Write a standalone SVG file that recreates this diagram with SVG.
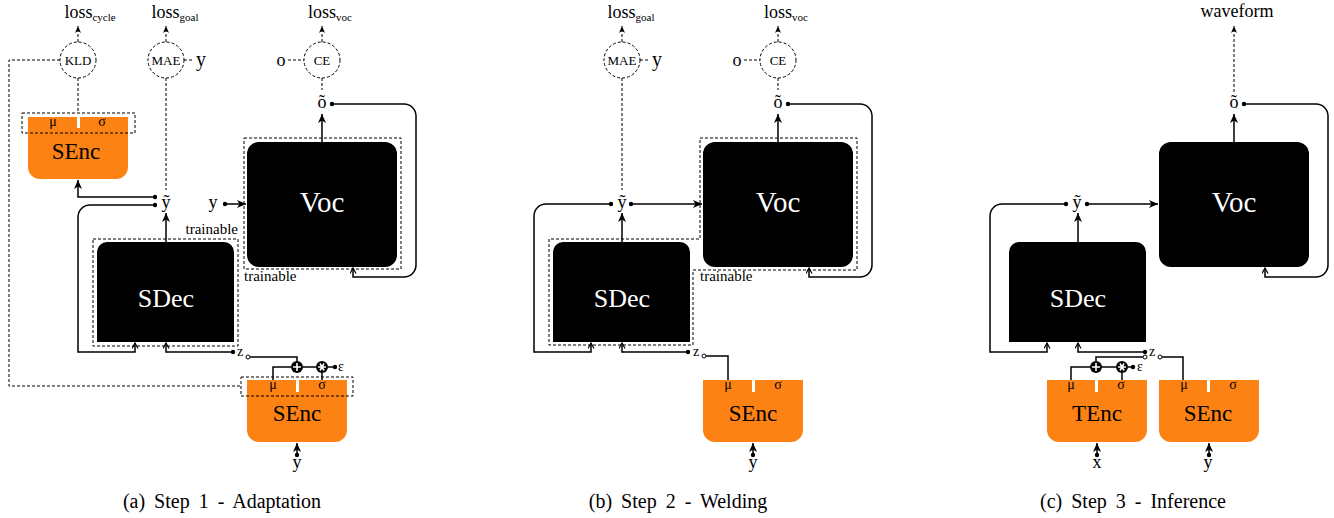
<svg xmlns="http://www.w3.org/2000/svg" width="1334" height="518" viewBox="0 0 1334 518">
<defs>
<style>
.t{font-family:"Liberation Serif","Times New Roman",serif;fill:#000}
.c{text-anchor:middle}
.w{fill:#fff}
.ln{fill:none;stroke:#000;stroke-width:1.5}
.dl{fill:none;stroke:#000;stroke-width:1;stroke-dasharray:3 2}
.or{fill:#fd8214}
.bk{fill:#000}
.dot{fill:#000}
.od{fill:#fff;stroke:#000;stroke-width:1}
.wl{stroke:#fff;stroke-width:1.6;fill:none}
.cap{font-size:20px;word-spacing:4px}
</style>
<marker id="ah" markerUnits="userSpaceOnUse" markerWidth="10" markerHeight="8" refX="9" refY="4" orient="auto"><path d="M0,0 L9,4 L0,8 L2.5,4 Z" fill="#000"/></marker>
<marker id="ao" markerUnits="userSpaceOnUse" markerWidth="8" markerHeight="8" refX="6" refY="3.5" orient="auto"><path d="M0.5,0.5 L6,3.5 L0.5,6.5" fill="none" stroke="#000" stroke-width="1.2"/></marker>
<marker id="ad" markerUnits="userSpaceOnUse" markerWidth="8" markerHeight="7" refX="7" refY="3" orient="auto"><path d="M0,0 L7,3 L0,6 L2,3 Z" fill="#000"/></marker>
<path id="orshape" d="M0,0 H100 V50 A12,12 0 0 1 88,62 H12 A12,12 0 0 1 0,50 Z"/>
<path id="sdec" d="M97,342 V252 A10,10 0 0 1 107,242 H224 A10,10 0 0 1 234,252 V342 Z"/>
</defs>
<rect width="1334" height="518" fill="#fff"/>

<!-- ===== Panel (a) ===== -->
<g id="panel-a">
 <g id="a-connectors">
  <path class="dl" d="M78,42 V26" marker-end="url(#ad)"/>
  <path class="dl" d="M166,42 V26" marker-end="url(#ad)"/>
  <path class="dl" d="M322,42 V26" marker-end="url(#ad)"/>
  <path class="dl" d="M184,60 H193"/>
  <path class="dl" d="M288,60 H304"/>
  <path class="dl" d="M322,78 V90"/>
  <path class="dl" d="M166,78 V190"/>
  <path class="dl" d="M78,78 V113"/>
  <path class="dl" d="M60,60 H9 V386 H241"/>
  <path class="ln" d="M322,142 V114" marker-end="url(#ah)"/>
  <path class="ln" d="M332,104 H404 A12,12 0 0 1 416,116 V265 A12,12 0 0 1 404,277 H353 V268" marker-end="url(#ao)"/>
  <path class="ln" d="M225,204 H246" marker-end="url(#ah)"/>
  <path class="ln" d="M155,197 H78 V180" marker-end="url(#ah)"/>
  <path class="ln" d="M155,205 H90 A12,12 0 0 0 78,217 V352 H135 V343" marker-end="url(#ao)"/>
  <path class="ln" d="M166,242 V213" marker-end="url(#ah)"/>
  <path class="ln" d="M233,352 H166 V343" marker-end="url(#ao)"/>
  <path class="ln" d="M250,357 H297 V361"/>
  <path class="ln" d="M291,367 H273 V381"/>
  <path class="ln" d="M303,367 H316"/>
  <path class="ln" d="M328,367 H335"/>
  <path class="ln" d="M322,373 V381"/>
  <path class="ln" d="M297,455 V443" marker-end="url(#ah)"/>
  <circle class="dot" cx="225" cy="204" r="2.2"/>
  <circle class="dot" cx="155" cy="197" r="2.2"/>
  <circle class="dot" cx="155" cy="205" r="2.2"/>
  <circle class="dot" cx="332" cy="104" r="2.2"/>
  <circle class="dot" cx="233" cy="352" r="2.2"/>
  <circle class="dot" cx="335" cy="367" r="2.2"/>
  <circle class="dot" cx="297" cy="455" r="2.2"/>
  <circle class="od" cx="248" cy="357" r="2"/>
 </g>
 <g id="a-loss-cycle"><text class="t c" x="90" y="18" font-size="18">loss<tspan font-size="11" dy="3">cycle</tspan></text></g>
 <g id="a-loss-goal"><text class="t c" x="175" y="18" font-size="18">loss<tspan font-size="11" dy="3">goal</tspan></text></g>
 <g id="a-loss-voc"><text class="t c" x="330" y="18" font-size="18">loss<tspan font-size="11" dy="3">voc</tspan></text></g>
 <g id="a-kld"><circle class="dl" cx="78" cy="60" r="18"/><text class="t c" x="78" y="65" font-size="13">KLD</text></g>
 <g id="a-mae"><circle class="dl" cx="166" cy="60" r="18"/><text class="t c" x="166" y="65" font-size="13">MAE</text><text class="t c" x="201" y="66" font-size="20">y</text></g>
 <g id="a-ce"><circle class="dl" cx="322" cy="60" r="18"/><text class="t c" x="322" y="65" font-size="13">CE</text><text class="t c" x="281" y="66" font-size="18">o</text></g>
 <g id="a-otilde"><text class="t c" x="322" y="108" font-size="18">õ</text></g>
 <g id="a-senc-top">
  <use href="#orshape" class="or" x="28" y="117"/>
  <rect class="w" x="77" y="117" width="3" height="11"/>
  <rect class="dl" x="22" y="113" width="113" height="20"/>
  <text class="t c" x="53" y="126" font-size="14">μ</text>
  <text class="t c" x="102" y="126" font-size="14">σ</text>
  <text class="t c" x="76" y="159" font-size="23">SEnc</text>
 </g>
 <g id="a-ytilde"><text class="t c" x="166" y="208" font-size="18">ỹ</text></g>
 <g id="a-y-voc"><text class="t c" x="213" y="208" font-size="18">y</text></g>
 <g id="a-voc">
  <rect class="dl" x="244" y="138" width="157" height="131"/>
  <rect class="bk" x="247" y="142" width="150" height="125" rx="12"/>
  <text class="t c w" x="322" y="212" font-size="29">Voc</text>
  <text class="t" x="244" y="281" font-size="15">trainable</text>
 </g>
 <g id="a-sdec">
  <rect class="dl" x="93" y="239" width="145" height="107"/>
  <use href="#sdec" class="bk"/>
  <text class="t c w" x="166" y="307" font-size="26">SDec</text>
  <text class="t" x="238" y="234" font-size="15" text-anchor="end">trainable</text>
 </g>
 <g id="a-z"><text class="t c" x="240" y="356" font-size="14">z</text></g>
 <g id="a-ops">
  <circle cx="297" cy="367" r="6" fill="#000"/><path class="wl" d="M293,367 H301 M297,363 V371"/>
  <circle cx="322" cy="367" r="6" fill="#000"/><path class="wl" d="M318,367 H326 M320,363.5 L324,370.5 M324,363.5 L320,370.5"/>
  <text class="t" x="338" y="371" font-size="14">ε</text>
 </g>
 <g id="a-senc-bottom">
  <use href="#orshape" class="or" x="247" y="380"/>
  <rect class="w" x="296" y="380" width="3" height="12"/>
  <rect class="dl" x="241" y="377" width="112" height="19"/>
  <text class="t c" x="273" y="389" font-size="14">μ</text>
  <text class="t c" x="322" y="389" font-size="14">σ</text>
  <text class="t c" x="297" y="421" font-size="23">SEnc</text>
  <text class="t c" x="297" y="468" font-size="18">y</text>
 </g>
 <g id="a-caption"><text class="t c cap" x="222" y="508">(a) Step 1 - Adaptation</text></g>
</g>

<!-- ===== Panel (b) ===== -->
<g id="panel-b" transform="translate(456,0)">
 <g id="b-connectors">
  <path class="dl" d="M166,42 V26" marker-end="url(#ad)"/>
  <path class="dl" d="M322,42 V26" marker-end="url(#ad)"/>
  <path class="dl" d="M184,60 H193"/>
  <path class="dl" d="M288,60 H304"/>
  <path class="dl" d="M322,78 V90"/>
  <path class="dl" d="M166,78 V190"/>
  <path class="ln" d="M322,142 V114" marker-end="url(#ah)"/>
  <path class="ln" d="M332,104 H404 A12,12 0 0 1 416,116 V265 A12,12 0 0 1 404,277 H353 V268" marker-end="url(#ao)"/>
  <path class="ln" d="M175,204 H246" marker-end="url(#ah)"/>
  <path class="ln" d="M155,204 H90 A12,12 0 0 0 78,216 V352 H135 V343" marker-end="url(#ao)"/>
  <path class="ln" d="M166,242 V213" marker-end="url(#ah)"/>
  <path class="ln" d="M232,352 H166 V343" marker-end="url(#ao)"/>
  <path class="ln" d="M250,356 H272 V381"/>
  <path class="ln" d="M297,455 V443" marker-end="url(#ah)"/>
  <circle class="dot" cx="175" cy="204" r="2.2"/>
  <circle class="dot" cx="155" cy="204" r="2.2"/>
  <circle class="dot" cx="332" cy="104" r="2.2"/>
  <circle class="dot" cx="232" cy="352" r="2.2"/>
  <circle class="dot" cx="297" cy="455" r="2.2"/>
  <circle class="od" cx="248" cy="356" r="2"/>
 </g>
 <g id="b-loss-goal"><text class="t c" x="175" y="18" font-size="18">loss<tspan font-size="11" dy="3">goal</tspan></text></g>
 <g id="b-loss-voc"><text class="t c" x="330" y="18" font-size="18">loss<tspan font-size="11" dy="3">voc</tspan></text></g>
 <g id="b-mae"><circle class="dl" cx="166" cy="60" r="18"/><text class="t c" x="166" y="65" font-size="13">MAE</text><text class="t c" x="201" y="66" font-size="20">y</text></g>
 <g id="b-ce"><circle class="dl" cx="322" cy="60" r="18"/><text class="t c" x="322" y="65" font-size="13">CE</text><text class="t c" x="281" y="66" font-size="18">o</text></g>
 <g id="b-otilde"><text class="t c" x="322" y="108" font-size="18">õ</text></g>
 <g id="b-ytilde"><text class="t c" x="166" y="208" font-size="18">ỹ</text></g>
 <g id="b-trainable">
  <path class="dl" d="M244,138 H401 V270 H237 V345 H93 V239 H244 Z"/>
  <text class="t" x="244" y="281" font-size="15">trainable</text>
 </g>
 <g id="b-voc">
  <rect class="bk" x="247" y="142" width="150" height="125" rx="12"/>
  <text class="t c w" x="322" y="212" font-size="29">Voc</text>
 </g>
 <g id="b-sdec">
  <use href="#sdec" class="bk"/>
  <text class="t c w" x="166" y="307" font-size="26">SDec</text>
 </g>
 <g id="b-z"><text class="t c" x="240" y="356" font-size="14">z</text></g>
 <g id="b-senc">
  <use href="#orshape" class="or" x="247" y="380"/>
  <rect class="w" x="296" y="380" width="3" height="12"/>
  <text class="t c" x="272" y="389" font-size="14">μ</text>
  <text class="t c" x="322" y="389" font-size="14">σ</text>
  <text class="t c" x="297" y="421" font-size="23">SEnc</text>
  <text class="t c" x="297" y="468" font-size="18">y</text>
 </g>
 <g id="b-caption"><text class="t c cap" x="222" y="508">(b) Step 2 - Welding</text></g>
</g>

<!-- ===== Panel (c) ===== -->
<g id="panel-c" transform="translate(912,0)">
 <g id="c-connectors">
  <path class="dl" d="M322,92 V26" marker-end="url(#ad)"/>
  <path class="ln" d="M322,142 V114" marker-end="url(#ah)"/>
  <path class="ln" d="M332,104 H404 A12,12 0 0 1 416,116 V265 A12,12 0 0 1 404,277 H353 V268" marker-end="url(#ao)"/>
  <path class="ln" d="M175,204 H246" marker-end="url(#ah)"/>
  <path class="ln" d="M154,204 H90 A12,12 0 0 0 78,216 V352 H135 V343" marker-end="url(#ao)"/>
  <path class="ln" d="M166,242 V213" marker-end="url(#ah)"/>
  <path class="ln" d="M233,352 H166 V343" marker-end="url(#ao)"/>
  <path class="ln" d="M231,357 H184 V361"/>
  <path class="ln" d="M250,357 H271 V381"/>
  <path class="ln" d="M178,367 H159 V381"/>
  <path class="ln" d="M190,367 H204"/>
  <path class="ln" d="M216,367 H221"/>
  <path class="ln" d="M210,373 V381"/>
  <path class="ln" d="M185,455 V443" marker-end="url(#ah)"/>
  <path class="ln" d="M297,455 V443" marker-end="url(#ah)"/>
  <circle class="dot" cx="175" cy="204" r="2.2"/>
  <circle class="dot" cx="154" cy="204" r="2.2"/>
  <circle class="dot" cx="332" cy="104" r="2.2"/>
  <circle class="dot" cx="233" cy="352" r="2.2"/>
  <circle class="dot" cx="221" cy="367" r="2.2"/>
  <circle class="dot" cx="185" cy="455" r="2.2"/>
  <circle class="dot" cx="297" cy="455" r="2.2"/>
  <circle class="od" cx="233" cy="357" r="2"/>
  <circle class="od" cx="248" cy="357" r="2"/>
 </g>
 <g id="c-waveform"><text class="t c" x="325" y="17" font-size="18">waveform</text></g>
 <g id="c-otilde"><text class="t c" x="322" y="108" font-size="18">õ</text></g>
 <g id="c-ytilde"><text class="t c" x="165" y="208" font-size="18">ỹ</text></g>
 <g id="c-voc">
  <rect class="bk" x="247" y="142" width="150" height="125" rx="12"/>
  <text class="t c w" x="322" y="212" font-size="29">Voc</text>
 </g>
 <g id="c-sdec">
  <use href="#sdec" class="bk"/>
  <text class="t c w" x="166" y="307" font-size="26">SDec</text>
 </g>
 <g id="c-z"><text class="t c" x="240" y="356" font-size="14">z</text></g>
 <g id="c-ops">
  <circle cx="184" cy="367" r="6" fill="#000"/><path class="wl" d="M180,367 H188 M184,363 V371"/>
  <circle cx="210" cy="367" r="6" fill="#000"/><path class="wl" d="M206,367 H214 M208,363.5 L212,370.5 M212,363.5 L208,370.5"/>
  <text class="t" x="225" y="371" font-size="14">ε</text>
 </g>
 <g id="c-tenc">
  <use href="#orshape" class="or" x="135" y="380"/>
  <rect class="w" x="183" y="380" width="3" height="12"/>
  <text class="t c" x="159" y="389" font-size="14">μ</text>
  <text class="t c" x="209" y="389" font-size="14">σ</text>
  <text class="t c" x="185" y="421" font-size="23">TEnc</text>
  <text class="t c" x="185" y="468" font-size="18">x</text>
 </g>
 <g id="c-senc">
  <use href="#orshape" class="or" x="247" y="380"/>
  <rect class="w" x="295" y="380" width="3" height="12"/>
  <text class="t c" x="272" y="389" font-size="14">μ</text>
  <text class="t c" x="321" y="389" font-size="14">σ</text>
  <text class="t c" x="296" y="421" font-size="23">SEnc</text>
  <text class="t c" x="296" y="468" font-size="18">y</text>
 </g>
 <g id="c-caption"><text class="t c cap" x="221" y="508">(c) Step 3 - Inference</text></g>
</g>
</svg>
